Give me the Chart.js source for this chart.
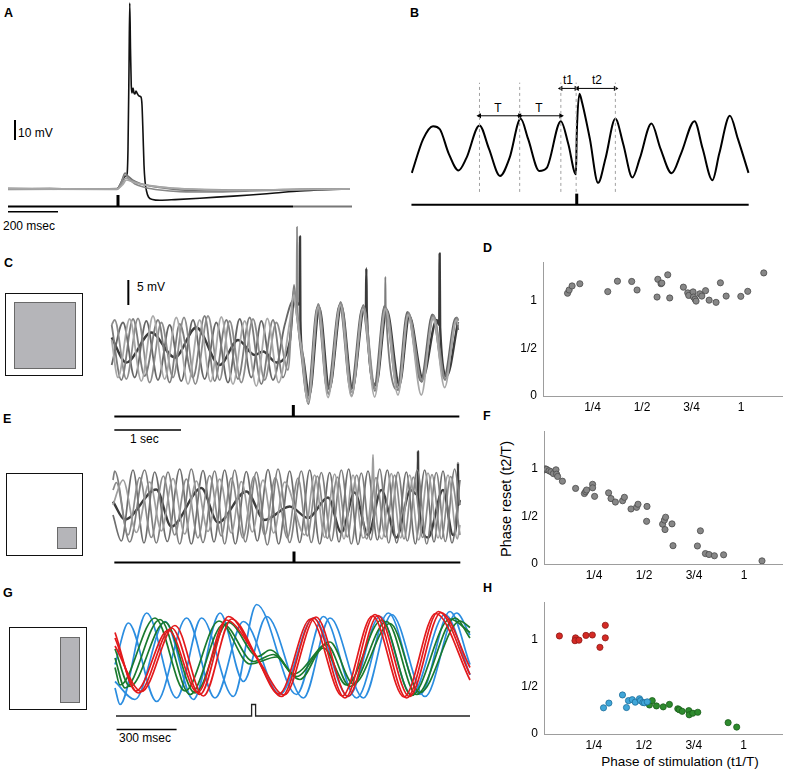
<!DOCTYPE html>
<html><head><meta charset="utf-8">
<script src="https://cdn.jsdelivr.net/npm/chart.js@4.4.1/dist/chart.umd.min.js"></script>
<style>
html,body{margin:0;padding:0;background:#fff}
body{width:787px;height:771px;position:relative;overflow:hidden;font-family:"Liberation Sans",Arial,Helvetica,sans-serif;color:#000}
canvas{position:absolute}
.t{position:absolute;font-size:12px;line-height:12px;white-space:nowrap}
.L{font-weight:bold;font-size:12.5px}
.ctr{transform:translateX(-50%)}
.box{position:absolute;border:1px solid #111;box-sizing:border-box;background:#fff}
.sq{position:absolute;background:#b5b5b9;border:1px solid #6a6a6a;box-sizing:border-box}
</style></head><body>
<div class="t L" style="left:4px;top:6.5px">A</div>
<div class="t L" style="left:410px;top:6.5px">B</div>
<div class="t L" style="left:4px;top:256.5px">C</div>
<div class="t L" style="left:483px;top:241.5px">D</div>
<div class="t L" style="left:3px;top:413px">E</div>
<div class="t L" style="left:483px;top:410px">F</div>
<div class="t L" style="left:3px;top:586.5px">G</div>
<div class="t L" style="left:483px;top:581.5px">H</div>

<div class="t" style="left:18px;top:127px">10 mV</div>
<div class="t" style="left:3px;top:219.5px">200 msec</div>
<div class="t ctr" style="left:498px;top:102px">T</div>
<div class="t ctr" style="left:539px;top:102px">T</div>
<div class="t ctr" style="left:568px;top:74px">t1</div>
<div class="t ctr" style="left:597px;top:74px">t2</div>
<div class="t" style="left:137px;top:281px">5 mV</div>
<div class="t" style="left:130px;top:433px">1 sec</div>
<div class="t" style="left:119px;top:731.5px">300 msec</div>
<div class="t" style="left:506px;top:498.5px;font-size:14.5px;line-height:14.5px;transform:translate(-50%,-50%) rotate(-90deg)">Phase reset (t2/T)</div>
<div class="t" style="left:680px;top:761.7px;font-size:13.5px;line-height:13.5px;transform:translate(-50%,-50%)">Phase of stimulation (t1/T)</div>

<div class="box" style="left:5px;top:293px;width:78px;height:83px"></div>
<div class="sq" style="left:14px;top:302px;width:62px;height:67px"></div>
<div class="box" style="left:6px;top:473px;width:77px;height:83px"></div>
<div class="sq" style="left:57px;top:527px;width:20px;height:22px"></div>
<div class="box" style="left:9px;top:627px;width:78px;height:83px"></div>
<div class="sq" style="left:60px;top:637px;width:20px;height:66px"></div>

<script>
// ================= DATA =================
// Panel A: time (ms), membrane potential relative to rest (mV)
const aSpikeTrace = [[32,0],[200,0.2],[350,-0.1],[468,0],[478,1.5],[490,4.5],[502,6.5],[508,7.2],[512,20],[516,60],[519,93],[522,70],[525,52],[528,48],[532,50.5],[536,48],[540,47.5],[544,49],[548,48],[556,46.5],[564,46],[568,42],[572,28],[576,12],[580,4],[586,-1],[594,-4],[610,-5.2],[640,-5.6],[700,-5.3],[800,-4.6],[900,-3.8],[1000,-3],[1100,-2],[1200,-1],[1300,-0.4],[1400,0]];
const aSubTrace1 = [[32,0.3],[300,0],[468,0.2],[484,3],[500,8],[512,6.5],[530,4.5],[560,2.8],[600,1.5],[660,0.4],[740,-0.6],[850,-1],[1000,-0.6],[1200,-0.2],[1400,0]];
const aSubTrace2 = [[32,-0.2],[468,0],[486,3.5],[500,7],[516,5],[540,2.5],[580,0.8],[640,-0.5],[720,-1.3],[850,-1.5],[1000,-1],[1200,-0.4],[1400,0]];
const aSubTrace3 = [[32,0],[468,-0.2],[488,2.5],[504,5.5],[520,4.5],[550,3],[600,1.7],[680,0.5],[800,-0.2],[1000,-0.5],[1200,-0.2],[1400,0.1]];
const aSubTrace4 = [[32,0.1],[468,0],[490,2],[506,4.5],[530,3.5],[580,2],[650,0.8],[760,0],[900,-0.6],[1100,-0.4],[1400,0]];
const aStim = [[32,-8.8],[1172,-8.8]];
const aStimTail = [[1172,-8.8],[1408,-8.8]];
const aPulse = [[472,-8.8],[472,-3]];
const aBar10mV = [[60,24.5],[60,34.5]];
const aBar200ms = [[32,-11.4],[232,-11.4]];

// Panel B: schematic trace (ms, mV)
const bTrace = [[142,6.2],[200,15],[250,18.3],[285,17.5],[330,11.2],[380,6.8],[420,10],[487,18.5],[535,12.5],[592,5.4],[640,10],[697,20.2],[735,15],[792,6.7],[830,7.5],[902,19.6],[940,13.7],[979,5.8],[983,16],[997,26.7],[1010,24.5],[1050,15],[1092,3.6],[1130,10],[1180,20.2],[1220,13.7],[1267,5],[1305,10],[1364,19],[1410,12.5],[1467,6.1],[1515,11.2],[1584,19.6],[1625,12.5],[1675,4.3],[1710,11.2],[1764,21],[1805,15],[1859,6.2]];
const bMarkTimes = [487,692,902,980,1180];
const bMarkSpan = [1.25,29.6];
const bArrowT1 = [[487,21],[692,21]];
const bArrowT2 = [[692,21],[902,21]];
const bArrowt1 = [[902,28.1],[980,28.1]];
const bArrowt2 = [[986,28.1],[1180,28.1]];
const bStim = [[140,-2.1],[1860,-2.1]];
const bPulse = [[983,-2.1],[983,0.8]];

// Panel C: time (ms), mV
const cTrace1 = [[55,2],[150,-5.5],[325,6.2],[500,-6.2],[675,6.8],[850,-5.8],[1025,6.5],[1200,-6.8],[1375,6.0],[1540,-6.3],[1700,6.6],[1875,-6.8],[2050,5.8],[2225,-7.2],[2390,6.3],[2560,-6.5],[2725,5.5],[2790,11],[2810,9],[2900,0],[3000,-10.5],[3150,8.5],[3300,-9.5],[3485,9],[3650,-9.3],[3825,8.2],[4000,-9.4],[4160,8.2],[4350,-9],[4500,7],[4700,-9],[4875,6.5],[5050,-7.5],[5225,6],[5255,5]];
const cTrace2 = [[55,5],[100,6],[275,-5.8],[450,6.3],[625,-6.5],[800,5.5],[975,-5.5],[1140,6.5],[1310,-6.8],[1500,6.8],[1675,-6],[1825,5.8],[2000,-6.5],[2175,6.2],[2350,-6],[2525,5.5],[2700,-4],[2790,12],[2815,10],[2828,10],[2835,24.6],[2842,9],[2900,1],[3010,-9.8],[3160,9],[3310,-8.6],[3495,9.4],[3660,-8.5],[3835,8.6],[4010,-7.8],[4170,8.4],[4360,-7.8],[4510,7.3],[4710,-6],[4885,6.8],[5060,-5.7],[5235,6.2],[5255,5.8]];
const cTrace3 = [[55,-3],[225,5.5],[400,-5.5],[575,5.8],[750,-6],[925,5],[1100,-6.2],[1275,6],[1450,-5.8],[1625,5.5],[1800,-6.5],[1975,6.2],[2150,-5.5],[2300,5.8],[2475,-6],[2650,5],[2785,10],[2810,9],[2900,-1],[2990,-9.5],[3140,8.6],[3290,-8],[3475,9],[3640,-8],[3815,8.4],[3990,-7.5],[4150,8.8],[4340,-7.5],[4490,7.6],[4690,-6.2],[4865,7.1],[5040,-5.5],[5215,6.4],[5255,4]];
const cTrace4 = [[55,2.5],[275,-2.5],[650,3.5],[1000,-1.5],[1325,4.5],[1675,-3],[1950,2],[2200,-1],[2325,-0.3],[2525,-2.5],[2725,1.5],[2795,11],[2820,9],[2874,9.5],[2880,22.7],[2886,6],[2920,-1],[3020,-9],[3170,8.4],[3320,-7.8],[3500,8.8],[3665,-7.6],[3845,8.4],[3868,8],[3875,16.3],[3882,7.5],[4020,-7],[4180,8.0],[4370,-7],[4520,6.8],[4720,-5.6],[4930,6],[4968,5],[4975,19.3],[4982,4.5],[5080,-5.2],[5250,5.6]];
const cTrace5 = [[55,5],[200,-6],[375,6.2],[550,-5.2],[750,6],[925,-6.5],[1075,5.2],[1275,-5.5],[1450,6.8],[1600,-6.2],[1775,6],[1950,-5.8],[2125,6.5],[2300,-6.8],[2475,6],[2625,-5.5],[2730,2],[2790,13],[2815,10],[2900,0.5],[3005,-10.8],[3155,9.2],[3305,-8.8],[3490,9.6],[3655,-9.2],[3830,9],[4005,-8.2],[4150,8.8],[4156,9],[4160,14.6],[4166,8.5],[4355,-8],[4505,7.5],[4705,-6.4],[4880,7],[5055,-6],[5230,6.5],[5255,6]];
const cStim = [[95,-13.3],[5270,-13.3]];
const cPulse = [[2780,-13.3],[2780,-11]];
const cBar5mV = [[305,9],[305,14]];
const cBar1s = [[95,-16],[1095,-16]];

// Panel E: time (ms), mV
const eTrace1 = [[75,5],[100,6.8],[325,-7.4],[550,7],[725,-7.6],[900,6.6],[1075,-7.8],[1250,7.2],[1425,-7.5],[1600,6.8],[1750,-7.8],[1900,7],[2060,-7.4],[2225,6.6],[2390,-8],[2550,7.2],[2725,-7.5],[2900,6.8],[3050,-7.5],[3200,6.5],[3350,-7.2],[3500,7],[3650,-7.8],[3800,6.4],[3940,-7],[4075,7.2],[4210,-7.6],[4350,6.6],[4490,-7.2],[4640,7],[4780,-7.8],[4925,6.5],[5060,-7.3],[5200,7.2],[5280,0]];
const eTrace2 = [[75,-2],[200,-7.2],[375,7],[540,-7.6],[700,6.6],[890,-7.3],[1075,7.2],[1250,-7.8],[1425,6.9],[1590,-7.4],[1750,7],[1910,-7.8],[2075,6.7],[2240,-7.2],[2400,7.1],[2560,-7.8],[2725,6.8],[2875,-7.5],[3025,7],[3175,-7.8],[3325,6.5],[3465,-7.4],[3610,7.2],[3750,-7.9],[3900,6.8],[4040,-7],[4190,7],[4330,-7.6],[4475,6.6],[4610,-7.8],[4750,7],[4890,-7.4],[5025,6.8],[5160,-7.6],[5280,5]];
const eTrace3 = [[75,0],[225,5],[425,-5.5],[625,4.6],[800,-5.2],[975,5.3],[1150,-5.8],[1325,4.8],[1500,-5.3],[1675,5.2],[1850,-5.6],[2000,4.7],[2165,-5.4],[2325,5],[2485,-5.6],[2650,4.6],[2950,-6],[3100,6],[3250,-6.5],[3400,6.2],[3540,-6.8],[3675,6],[3825,-6.6],[3965,6.2],[3975,10.1],[3985,5.8],[4110,-6.8],[4250,6.3],[4390,-6.6],[4525,6],[4660,-7],[4800,6.4],[4950,-6.6],[5100,6],[5240,-6.8],[5280,-4]];
const eTrace5 = [[75,3],[125,4.5],[300,-6],[475,5.5],[650,-6.5],[830,5.8],[1000,-6],[1175,5.2],[1350,-6.6],[1525,5.9],[1700,-6.2],[1850,5.4],[2025,-6.6],[2190,5.7],[2350,-6],[2510,5.5],[2690,-6.6],[2850,5.4],[2990,-6.2],[3140,5.8],[3290,-6.7],[3440,5.6],[3590,-6.4],[3730,6],[3880,-6.8],[4020,5.5],[4160,-6.4],[4300,6],[4440,-6.8],[4580,5.6],[4720,-6.5],[4860,6.1],[5000,-6.8],[5140,5.7],[5280,-6]];
const eTrace4 = [[75,0.7],[250,-2.9],[725,3.1],[950,-4.3],[1400,3.4],[1650,-3.5],[2075,2.7],[2350,-3],[2725,-0.3],[3000,-2.6],[3300,1.5],[3500,-5.5],[3700,2.5],[3900,-6],[4100,3],[4325,-6.5],[4540,3],[4645,2],[4650,10.7],[4655,1.5],[4800,-6.5],[5025,3],[5175,-6],[5245,0],[5250,8.4],[5255,0],[5280,1]];
const eStim = [[95,-11.5],[5285,-11.5]];
const ePulse = [[2790,-11.5],[2790,-9.3]];

// Panel G: time (ms), mV
const gRed1 = [[25,3.4],[142,-7.6],[308,5.4],[450,-7.9],[592,7.7],[733,-0.6],[858,-8.3],[1017,7.4],[1175,-8.6],[1325,8.1],[1483,-8.6],[1642,8.7],[1800,-3.9]];
const gRed2 = [[25,1.8],[158,-7.3],[325,5.9],[467,-8.2],[608,7.2],[750,-1.5],[872,-8.0],[1030,7.6],[1190,-8.3],[1340,7.9],[1497,-8.3],[1655,8.5],[1800,-2.5]];
const gRed3 = [[25,4.5],[130,-7.2],[292,5],[438,-7.5],[580,7],[720,0.5],[845,-7.8],[1003,7.2],[1162,-8.2],[1312,7.8],[1470,-8.4],[1628,8.3],[1800,-5]];
const gGreen1 = [[25,-0.6],[75,-6.6],[250,7.1],[400,-7.9],[567,6.1],[717,-1.3],[817,0.1],[933,-4.3],[1083,2.1],[1200,-6.3],[1383,6.7],[1533,-7.9],[1725,7.4],[1800,3.4]];
const gGreen2 = [[25,1.2],[100,-6.3],[275,6.6],[425,-7.6],[592,6.5],[740,-0.3],[800,1],[950,-4.9],[1067,1.4],[1183,-6],[1358,7],[1508,-8.1],[1700,7.2],[1800,4.5]];
const gGreen3 = [[25,-2.5],[50,-6],[225,7.4],[375,-7.2],[545,6.8],[700,-1.8],[833,-0.4],[917,-3.8],[1100,2.6],[1217,-5.8],[1400,6.3],[1550,-7.5],[1750,6.8],[1800,5.5]];
const gBlue1 = [[25,-6.6],[50,-9.9],[183,8.4],[333,-8.6],[458,7.4],[617,-8.3],[733,10.1],[933,-7.9],[1067,7.7],[1233,-8.6],[1392,8.4],[1550,-7.9],[1700,8.7],[1800,-1.9]];
const gBlue2 = [[25,-1.9],[92,6.4],[233,-9.3],[383,7.4],[525,-8.6],[667,6.7],[850,-7.9],[1017,7.4],[1192,-8.3],[1350,7.7],[1508,-7.9],[1675,8.1],[1800,-4]];
const gBlue3 = [[25,-5.3],[125,-8.9],[275,6.7],[417,-8.9],[550,8.4],[667,-5.3],[783,7.7],[967,-8.6],[1100,7.4],[1267,-8.6],[1408,8.1],[1575,-8.3],[1733,8.4],[1800,4]];
const gStim = [[30,-12.2],[708,-12.2],[708,-9.9],[728,-9.9],[728,-12.2],[1800,-12.2]];
const gBar300ms = [[33,-14.9],[333,-14.9]];

// Panels D, F, H: phase of stimulation (t1/T) vs phase reset (t2/T)
const dPhaseStim  = [0.124,0.132,0.147,0.186,0.327,0.376,0.448,0.475,0.576,0.580,0.596,0.600,0.630,0.640,0.709,0.731,0.736,0.758,0.760,0.768,0.773,0.792,0.802,0.821,0.839,0.874,0.896,0.925,0.999,1.034,1.115];
const dPhaseReset = [1.083,1.117,1.16,1.183,1.10,1.21,1.207,1.117,1.043,1.23,1.183,1.19,1.277,1.033,1.147,1.087,1.06,1.097,1.043,1.02,1.0,1.077,1.053,1.11,1.01,0.987,1.193,1.053,1.05,1.103,1.297];
const fPhaseStim  = [0.002,0.007,0.013,0.025,0.035,0.047,0.06,0.063,0.068,0.092,0.158,0.202,0.208,0.213,0.243,0.243,0.253,0.323,0.335,0.357,0.393,0.402,0.435,0.463,0.47,0.515,0.513,0.593,0.602,0.608,0.605,0.64,0.645,0.767,0.782,0.807,0.825,0.852,0.898,1.09];
const fPhaseReset = [0.993,1.003,0.997,0.983,0.973,0.953,0.993,0.947,0.923,0.873,0.797,0.743,0.763,0.78,0.84,0.803,0.713,0.75,0.69,0.653,0.667,0.703,0.58,0.597,0.63,0.607,0.45,0.42,0.463,0.493,0.363,0.423,0.193,0.19,0.35,0.11,0.10,0.087,0.097,0.033];
const hRedStim    = [0.077,0.158,0.155,0.175,0.21,0.242,0.28,0.307,0.307];
const hRedReset   = [1.037,1.017,0.987,0.993,1.043,1.047,0.917,1.15,1.017];
const hBlueStim   = [0.298,0.325,0.393,0.413,0.423,0.442,0.457,0.478,0.483,0.495,0.503,0.517];
const hBlueReset  = [0.277,0.327,0.413,0.28,0.353,0.363,0.337,0.373,0.353,0.333,0.33,0.34];
const hGreenStim  = [0.528,0.542,0.563,0.597,0.628,0.67,0.677,0.692,0.725,0.727,0.745,0.77,0.922,0.965];
const hGreenReset = [0.307,0.353,0.297,0.287,0.313,0.267,0.257,0.24,0.247,0.203,0.22,0.23,0.12,0.073];
const phaseTicks = [0.25,0.5,0.75,1];
const phaseTickLabels = ['1/4','1/2','3/4','1'];
const resetTicks = [0,0.5,1];
const resetTickLabels = ['0','1/2','1'];

// ================= RENDER =================
Chart.defaults.font.family = '"Liberation Sans", Arial, Helvetica, sans-serif';
Chart.defaults.color = '#000';

const XY = pts => pts.map(p => ({x:p[0], y:p[1]}));
function trace(pts, color, width, extra) {
  return Object.assign({data: XY(pts), borderColor: color, backgroundColor: color, borderWidth: width,
    showLine: true, pointRadius: 0, fill: false, cubicInterpolationMode: 'monotone', borderJoinStyle:'round'}, extra || {});
}
function straight(pts, color, width, extra) {
  return trace(pts, color, width, Object.assign({cubicInterpolationMode: 'default', tension: 0, borderJoinStyle:'miter'}, extra || {}));
}
function addCanvas(left, top, w, h) {
  const cv = document.createElement('canvas');
  cv.width = w; cv.height = h;
  cv.style.left = left + 'px'; cv.style.top = top + 'px';
  cv.style.width = w + 'px'; cv.style.height = h + 'px';
  document.body.appendChild(cv);
  return cv;
}
const baseOpts = {responsive:false, animation:false, devicePixelRatio:1, events:[],
  plugins:{legend:{display:false}, tooltip:{enabled:false}}};

function traceChart(left, top, w, h, xr, yr, datasets) {
  return new Chart(addCanvas(left, top, w, h), {type:'scatter', data:{datasets},
    options: Object.assign({}, baseOpts, {layout:{padding:0},
      scales:{x:{type:'linear', display:false, min:xr[0], max:xr[1]},
              y:{type:'linear', display:false, min:yr[0], max:yr[1]}}})});
}

// Panel A
traceChart(0, 0, 360, 220, [0,1440], [-15.5,94.5], [
  straight(aStim, '#000', 2), straight(aStimTail, '#777', 2), straight(aPulse, '#000', 3),
  straight(aBar10mV, '#000', 2), straight(aBar200ms, '#000', 1.5),
  trace(aSubTrace4, '#a8a8a8', 1.6), trace(aSubTrace3, '#999', 1.6),
  trace(aSubTrace2, '#888', 1.6), trace(aSubTrace1, '#707070', 1.6),
  trace(aSpikeTrace, '#111', 1.6)
]);

// Panel B
const bDashSets = bMarkTimes.map(t => straight([[t,bMarkSpan[0]],[t,bMarkSpan[1]]], '#a0a0a0', 1, {borderDash:[3,3]}));
const arrowOpts = {pointRadius:3, pointStyle:'triangle', pointRotation:[270,90], pointBackgroundColor:'#000', pointBorderWidth:0};
traceChart(380, 0, 407, 220, [0,2035], [-5,50], [
  ...bDashSets,
  straight(bArrowT1, '#000', 1, arrowOpts), straight(bArrowT2, '#000', 1, arrowOpts),
  straight(bArrowt1, '#000', 1, arrowOpts), straight(bArrowt2, '#000', 1, arrowOpts),
  straight(bStim, '#000', 2), straight(bPulse, '#000', 3),
  trace(bTrace, '#000', 2)
]);

// Panel C
traceChart(108, 222, 354, 223, [0,5310], [-19,25.6], [
  straight(cStim, '#000', 2), straight(cPulse, '#000', 3),
  straight(cBar5mV, '#000', 2), straight(cBar1s, '#000', 1.5),
  trace(cTrace1, '#a8a8a8', 1.8), trace(cTrace2, '#8c8c8c', 1.8), trace(cTrace5, '#7c7c7c', 1.8),
  trace(cTrace3, '#666', 1.8), trace(cTrace4, '#3a3a3a', 2.4)
]);

// Panel E
traceChart(108, 445, 354, 125, [0,5310], [-13,12], [
  straight(eStim, '#000', 2), straight(ePulse, '#000', 3),
  trace(eTrace3, '#9e9e9e', 1.7), trace(eTrace5, '#8a8a8a', 1.7),
  trace(eTrace1, '#7e7e7e', 1.7), trace(eTrace2, '#6e6e6e', 1.7),
  trace(eTrace4, '#3c3c3c', 2.4)
]);

// Panel G
const RED = '#e31a1c', GREEN = '#1a7a2e', BLUE = '#2b8de0';
traceChart(110, 595, 365, 150, [0,1825], [-18,12], [
  straight(gStim, '#222', 1.3), straight(gBar300ms, '#000', 1.5),
  trace(gRed1, RED, 1.7), trace(gRed2, RED, 1.7), trace(gRed3, RED, 1.7),
  trace(gGreen1, GREEN, 1.7), trace(gGreen2, GREEN, 1.7), trace(gGreen3, GREEN, 1.7),
  trace(gBlue1, BLUE, 1.7), trace(gBlue2, BLUE, 1.7), trace(gBlue3, BLUE, 1.7)
]);

// Scatter panels
function pts(xs, ys) { return xs.map((x, i) => ({x, y: ys[i]})); }
function dots(xs, ys, fill, edge) {
  return {data: pts(xs, ys), backgroundColor: fill, borderColor: edge, borderWidth: 0.8, pointRadius: 3.1, showLine:false};
}
function phaseChart(area, pxPerX, pxPerY, datasets) {
  const padL = 44, padT = 6, padR = 5, padB = 22;
  const w = padL + (area.right - area.left) + padR;
  const h = padT + (area.bottom - area.top) + padB;
  const xMax = (area.right - area.left) / pxPerX;
  const yMax = (area.bottom - area.top) / pxPerY;
  const axisCommon = {type:'linear', grid:{display:false, drawTicks:false},
    border:{display:true, color:'#9d9d9d', width:1}};
  return new Chart(addCanvas(area.left - padL, area.top - padT, w, h), {type:'scatter', data:{datasets},
    options: Object.assign({}, baseOpts, {layout:{padding:{top:padT, right:padR, left:0, bottom:0}},
      scales:{
        x: Object.assign({}, axisCommon, {min:0, max:xMax,
          ticks:{autoSkip:false, maxRotation:0, padding:4, font:{size:12}, color:'#000',
                 callback:(v, i) => phaseTickLabels[i]},
          afterBuildTicks: s => { s.ticks = phaseTicks.map(v => ({value:v})); },
          afterFit: s => { s.height = padB; }}),
        y: Object.assign({}, axisCommon, {min:0, max:yMax,
          ticks:{autoSkip:false, padding:6, font:{size:12}, color:'#000',
                 callback:(v, i) => resetTickLabels[i]},
          afterBuildTicks: s => { s.ticks = resetTicks.map(v => ({value:v})); },
          afterFit: s => { s.width = padL; }})
      }})});
}
const GRAYF = '#878787', GRAYE = '#4a4a4a';
phaseChart({left:543, top:255, right:782, bottom:396}, 198, 100, [dots(dPhaseStim, dPhaseReset, GRAYF, GRAYE)]);
phaseChart({left:544, top:424, right:782, bottom:564}, 200, 100, [dots(fPhaseStim, fPhaseReset, GRAYF, GRAYE)]);
phaseChart({left:544, top:595, right:782, bottom:734}, 199.7, 99.7, [
  dots(hRedStim, hRedReset, '#d42a25', '#8e1a17'),
  dots(hBlueStim, hBlueReset, '#40a6d8', '#1e6f9a'),
  dots(hGreenStim, hGreenReset, '#2e8b2e', '#1b5e1b')
]);
</script>
</body></html>
